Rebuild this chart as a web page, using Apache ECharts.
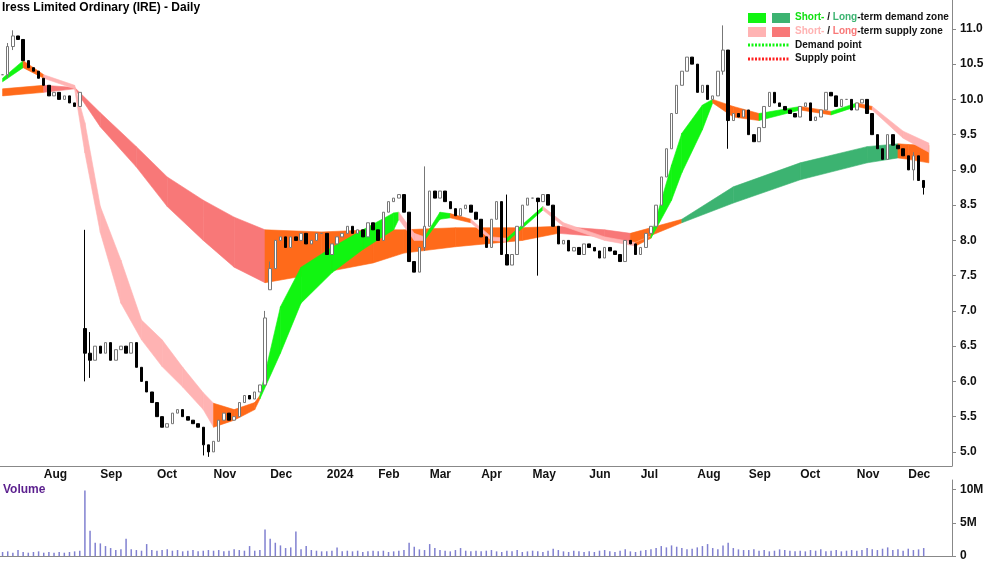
<!DOCTYPE html>
<html><head><meta charset="utf-8">
<script src="https://cdn.jsdelivr.net/npm/echarts@6/dist/echarts.min.js"></script>
<style>html,body{margin:0;padding:0;background:#fff}#c{width:1000px;height:562px}</style>
</head><body><div id="c"></div>
<script>
const monthNames = ["Jul","Aug","Sep","Oct","Nov","Dec","2024","Feb","Mar","Apr","May","Jun","Jul","Aug","Sep","Oct","Nov","Dec"];
const monthCounts = [8,11,11,11,11,11,10,10,10,10,11,10,11,10,10,11,10,9];
const closes = [
10.35,10.75,10.9,10.85,10.55,10.45,10.4,10.3,
10.2,10.05,10.1,10.0,10.05,9.95,9.9,10.1,6.4,6.3,6.5,
6.4,6.55,6.3,6.45,6.5,6.4,6.55,6.2,6.0,5.85,5.7,
5.5,5.35,5.4,5.55,5.6,5.5,5.45,5.4,5.35,5.1,5.0,
5.15,5.45,5.55,5.45,5.5,5.7,5.8,5.75,5.85,5.95,6.9,
7.6,8.0,8.05,7.9,8.05,8.0,8.1,7.95,8.0,8.1,8.1,
7.8,7.95,8.05,8.1,8.2,8.1,8.15,8.05,8.25,8.15,
8.0,8.4,8.55,8.6,8.65,8.4,7.7,7.55,7.9,8.2,
8.7,8.6,8.7,8.55,8.45,8.35,8.45,8.5,8.4,8.3,
8.05,7.9,8.3,8.55,7.8,7.65,7.8,8.2,8.5,8.6,
8.6,8.55,8.65,8.5,8.2,7.95,8.0,7.85,7.9,7.8,7.95,
7.9,7.85,7.75,7.9,7.85,7.8,7.7,8.0,7.95,7.8,
7.9,8.1,8.2,8.5,8.9,9.3,9.8,10.2,10.4,10.6,10.5,
10.1,10.2,10.0,10.05,10.4,10.7,9.7,9.8,9.75,9.85,
9.5,9.4,9.6,9.9,10.1,9.95,9.9,9.85,9.8,9.75,
9.9,9.95,9.7,9.75,9.85,10.1,10.05,9.9,10.0,10.0,9.85,
9.95,10.0,9.8,9.5,9.3,9.15,9.5,9.35,9.3,9.2,
9.0,9.2,8.85,8.75];
// gap opens [index, open]
const gapOpens = [[16,6.75],[52,7.3]];
// [index, high, low]
const spikes = [[1,10.8,10.3],[2,10.98,10.7],[16,8.15,6.0],[17,6.7,6.05],[39,5.2,4.95],[40,5.1,4.93],[51,7.0,6.35],[52,7.7,7.3],[82,9.05,7.85],[98,8.65,7.75],[104,7.7,7.5],[140,11.05,10.35],[141,10.7,9.3],[177,9.25,8.85],[179,8.85,8.65]];
const volumes = [
.6,.7,.5,.9,.6,.5,.6,.7,
.5,.6,.5,.6,.5,.6,.7,.8,9.9,3.8,2.0,
1.9,1.5,1.2,.9,1.0,2.6,1.0,.9,.8,1.8,.9,
.8,.9,1.0,.8,.9,.7,.8,.9,.7,.8,.9,
.8,.9,.7,.8,1.0,.9,.8,1.5,.8,.9,4.0,
2.6,2.0,1.6,1.2,1.3,3.7,1.0,1.5,.9,.8,.7,
.7,.8,1.3,.7,.8,.7,.8,.6,.7,.8,
.7,.8,.6,.7,.8,.9,2.0,1.4,1.0,.9,
1.8,1.2,.9,.8,.7,.9,1.2,.8,.7,.8,
.7,.8,.9,.7,.6,.8,.7,.9,.6,.7,
.8,.7,.6,.8,1.1,.9,.7,.6,.8,.7,.6,
.7,.6,.8,.9,.7,.6,.8,1.0,.7,.6,
.8,.9,1.0,1.2,1.5,1.3,1.6,1.4,1.2,1.0,1.1,
1.3,1.5,1.8,1.2,1.0,1.6,2.0,1.2,1.0,.9,
.9,1.0,.8,.9,.7,.8,1.0,.9,.8,.7,
.8,.7,.9,.8,1.0,.7,.8,.9,.7,.8,.9,
.8,.9,1.2,1.0,.9,1.1,1.3,.9,1.0,.8,
1.1,.9,1.0,1.2];
// [slot, low, high, colour code of following segment]
const shortBand = [[0,10.25,10.3,'G'],[3.5,10.45,10.55,'O'],[7.8,10.3,10.35,'P'],[14,10.15,10.2,'P'],[15.5,9.24,9.67,'P'],[19.4,8.11,8.48,'P'],[23.3,7.11,7.72,'P'],[27.2,6.59,6.87,'P'],[31,6.21,6.59,'P'],[35,5.92,6.2,'P'],[38.8,5.6,5.84,'P'],[41.4,5.35,5.69,'O'],[44.7,5.45,5.6,'O'],[48.5,5.6,5.7,'O'],[50,5.75,5.8,'G'],[54.4,6.4,7.06,'G'],[58.3,7.11,7.62,'G'],[64,7.54,7.9,'G'],[70,7.87,8.15,'G'],[75.7,8.15,8.39,'G'],[77.3,8.3,8.4,'P'],[79.6,8.0,8.1,'P'],[81.5,8.0,8.05,'G'],[85.4,8.3,8.4,'G'],[87.4,8.32,8.38,'O'],[91.3,8.25,8.3,'P'],[95,8.0,8.05,'P'],[98,7.98,8.03,'G'],[104.9,8.43,8.48,'P'],[108.7,8.2,8.25,'P'],[116.5,8.0,8.05,'P'],[123.3,7.92,7.97,'O'],[126.2,8.03,8.06,'G'],[130,8.57,9.07,'G'],[132,8.96,9.52,'G'],[136,9.57,9.92,'G'],[138.3,9.95,10.0,'O'],[141.7,9.75,9.9,'O'],[146.6,9.7,9.8,'G'],[155.3,9.85,9.9,'O'],[161,9.78,9.83,'G'],[166,9.9,9.95,'O'],[169,9.85,9.9,'P'],[174.8,9.45,9.55,'P'],[179.6,9.25,9.38,'P']];
const longBand = [[0,10.05,10.15,'O'],[7.8,10.1,10.2,'R'],[14,10.15,10.17,'R'],[19.4,9.61,9.81,'R'],[25.8,9.04,9.33,'R'],[32.4,8.48,8.9,'R'],[38.8,8.0,8.57,'R'],[45.2,7.62,8.33,'R'],[50.5,7.4,8.15,'O'],[62,7.54,8.12,'O'],[71.8,7.68,8.15,'O'],[78.3,7.82,8.15,'O'],[88,7.91,8.18,'O'],[101,8.0,8.18,'O'],[107.8,8.1,8.2,'R'],[116.5,8.05,8.15,'R'],[122.3,7.95,8.1,'O'],[132,8.25,8.3,'D'],[141.7,8.53,8.76,'D'],[154.8,8.86,9.1,'D'],[167.6,9.1,9.33,'D'],[174.2,9.17,9.37,'O'],[175.7,9.15,9.36,'O'],[179.6,9.1,9.35,'O']];
const priceTicks = [5,5.5,6,6.5,7,7.5,8,8.5,9,9.5,10,10.5,11];
const volTicks = [0,5,10];

const COL = {G:'#11f511',D:'#3cb371',P:'#ffb3b3',R:'#f87878',O:'#ff6a1a'};
const cats = [];
monthCounts.forEach((n,m)=>{for(let k=0;k<n;k++)cats.push(m+'-'+k);});
const ohlc = closes.map((c,i)=>{let o=i?closes[i-1]:c;const g=gapOpens.find(x=>x[0]===i);if(g)o=g[1];
  let h=Math.max(o,c),l=Math.min(o,c);
  const s=spikes.find(x=>x[0]===i); if(s){h=Math.max(h,s[1]);l=Math.min(l,s[2]);} return [o,c,l,h];});
const labelOk=(i,v)=>{const p=v.split('-');return p[1]==='0'&&p[0]!=='0';};

function bandSeries(band,z){
  return {type:'custom',xAxisIndex:0,yAxisIndex:0,z:z,silent:true,data:band.map(b=>[b[0],b[1],b[2]]),
    renderItem:(params,api)=>{const i=params.dataIndex;if(i>=band.length-1)return null;
      const a=band[i],b=band[i+1];
      const pts=[api.coord([a[0],a[2]]),api.coord([b[0],b[2]]),api.coord([b[0],b[1]]),api.coord([a[0],a[1]])];
      return {type:'polygon',shape:{points:pts},style:{fill:COL[a[3]],stroke:COL[a[3]],lineWidth:0.6}};}};
}
const font='Arial, "Liberation Sans", sans-serif';
const lf='bold 10px '+font;
const chart=echarts.init(document.getElementById('c'));
chart.setOption({
  animation:false,
  grid:[{left:0,right:48,top:0,height:466},{left:0,right:48,top:480,height:78}],
  xAxis:[
    {type:'category',gridIndex:0,data:cats,boundaryGap:true,
     axisLine:{lineStyle:{color:'#888'}},axisTick:{interval:labelOk,length:4,lineStyle:{color:'#888'}},
     axisLabel:{interval:labelOk,formatter:v=>monthNames[+v.split('-')[0]],align:'left',margin:3,color:'#111',fontWeight:'bold',fontSize:12,fontFamily:font}},
    {type:'category',gridIndex:1,data:cats,position:'top',axisLine:{lineStyle:{color:'#888'}},axisTick:{show:false},axisLabel:{show:false}}
  ],
  yAxis:[
    {type:'value',gridIndex:0,position:'right',min:4.8,max:11.41,splitLine:{show:false},
     axisLine:{show:true,lineStyle:{color:'#888'}},axisTick:{show:true,customValues:priceTicks,length:4,lineStyle:{color:'#888'}},
     axisLabel:{customValues:priceTicks,formatter:v=>v.toFixed(1),color:'#111',fontSize:12,fontWeight:'bold',margin:8,fontFamily:font}},
    {type:'value',gridIndex:1,position:'right',min:0,max:11.47,splitLine:{show:false},
     axisLine:{show:true,lineStyle:{color:'#888'}},axisTick:{show:true,customValues:volTicks,length:4,lineStyle:{color:'#888'}},
     axisLabel:{customValues:volTicks,formatter:v=>v===0?'0':v+'M',color:'#111',fontSize:12,fontWeight:'bold',margin:8,fontFamily:font}}
  ],
  series:[
    bandSeries(longBand,1),
    bandSeries(shortBand,2),
    {type:'candlestick',xAxisIndex:0,yAxisIndex:0,z:5,data:ohlc,barWidth:3,
     itemStyle:{color:'#ffffff',color0:'#000000',borderColor:'#777777',borderColor0:'#000000',borderWidth:1}},
    {type:'bar',xAxisIndex:1,yAxisIndex:1,data:volumes,barWidth:1.5,itemStyle:{color:'#8080d0'}}
  ],
  graphic:[
    {type:'text',left:2,top:2,style:{text:'Iress Limited Ordinary (IRE) - Daily',font:'bold 12px '+font,fill:'#000'}},
    {type:'text',left:3,top:484,style:{text:'Volume',font:'bold 12px '+font,fill:'#5b1f8e'}},
    {type:'rect',shape:{x:748,y:13,width:18,height:10},style:{fill:'#11f511'}},
    {type:'rect',shape:{x:772,y:13,width:18,height:10},style:{fill:'#3cb371'}},
    {type:'rect',shape:{x:748,y:27,width:18,height:10},style:{fill:'#ffb3b3'}},
    {type:'rect',shape:{x:772,y:27,width:18,height:10},style:{fill:'#f87878'}},
    {type:'line',shape:{x1:748,y1:45,x2:790,y2:45},style:{stroke:'#11f511',lineWidth:3,lineDash:[2,1.5]}},
    {type:'line',shape:{x1:748,y1:59,x2:790,y2:59},style:{stroke:'#ff2020',lineWidth:3,lineDash:[2,1.5]}},
    {type:'text',left:795,top:12,style:{text:'{g|Short-} / {d|Long}-term demand zone',font:lf,fill:'#111',rich:{g:{fill:'#11e011',font:lf},d:{fill:'#3cb371',font:lf}}}},
    {type:'text',left:795,top:26,style:{text:'{p|Short-} / {r|Long}-term supply zone',font:lf,fill:'#111',rich:{p:{fill:'#ffb3b3',font:lf},r:{fill:'#f87878',font:lf}}}},
    {type:'text',left:795,top:40,style:{text:'Demand point',font:lf,fill:'#111'}},
    {type:'text',left:795,top:53,style:{text:'Supply point',font:lf,fill:'#111'}}
  ]
});
</script></body></html>
